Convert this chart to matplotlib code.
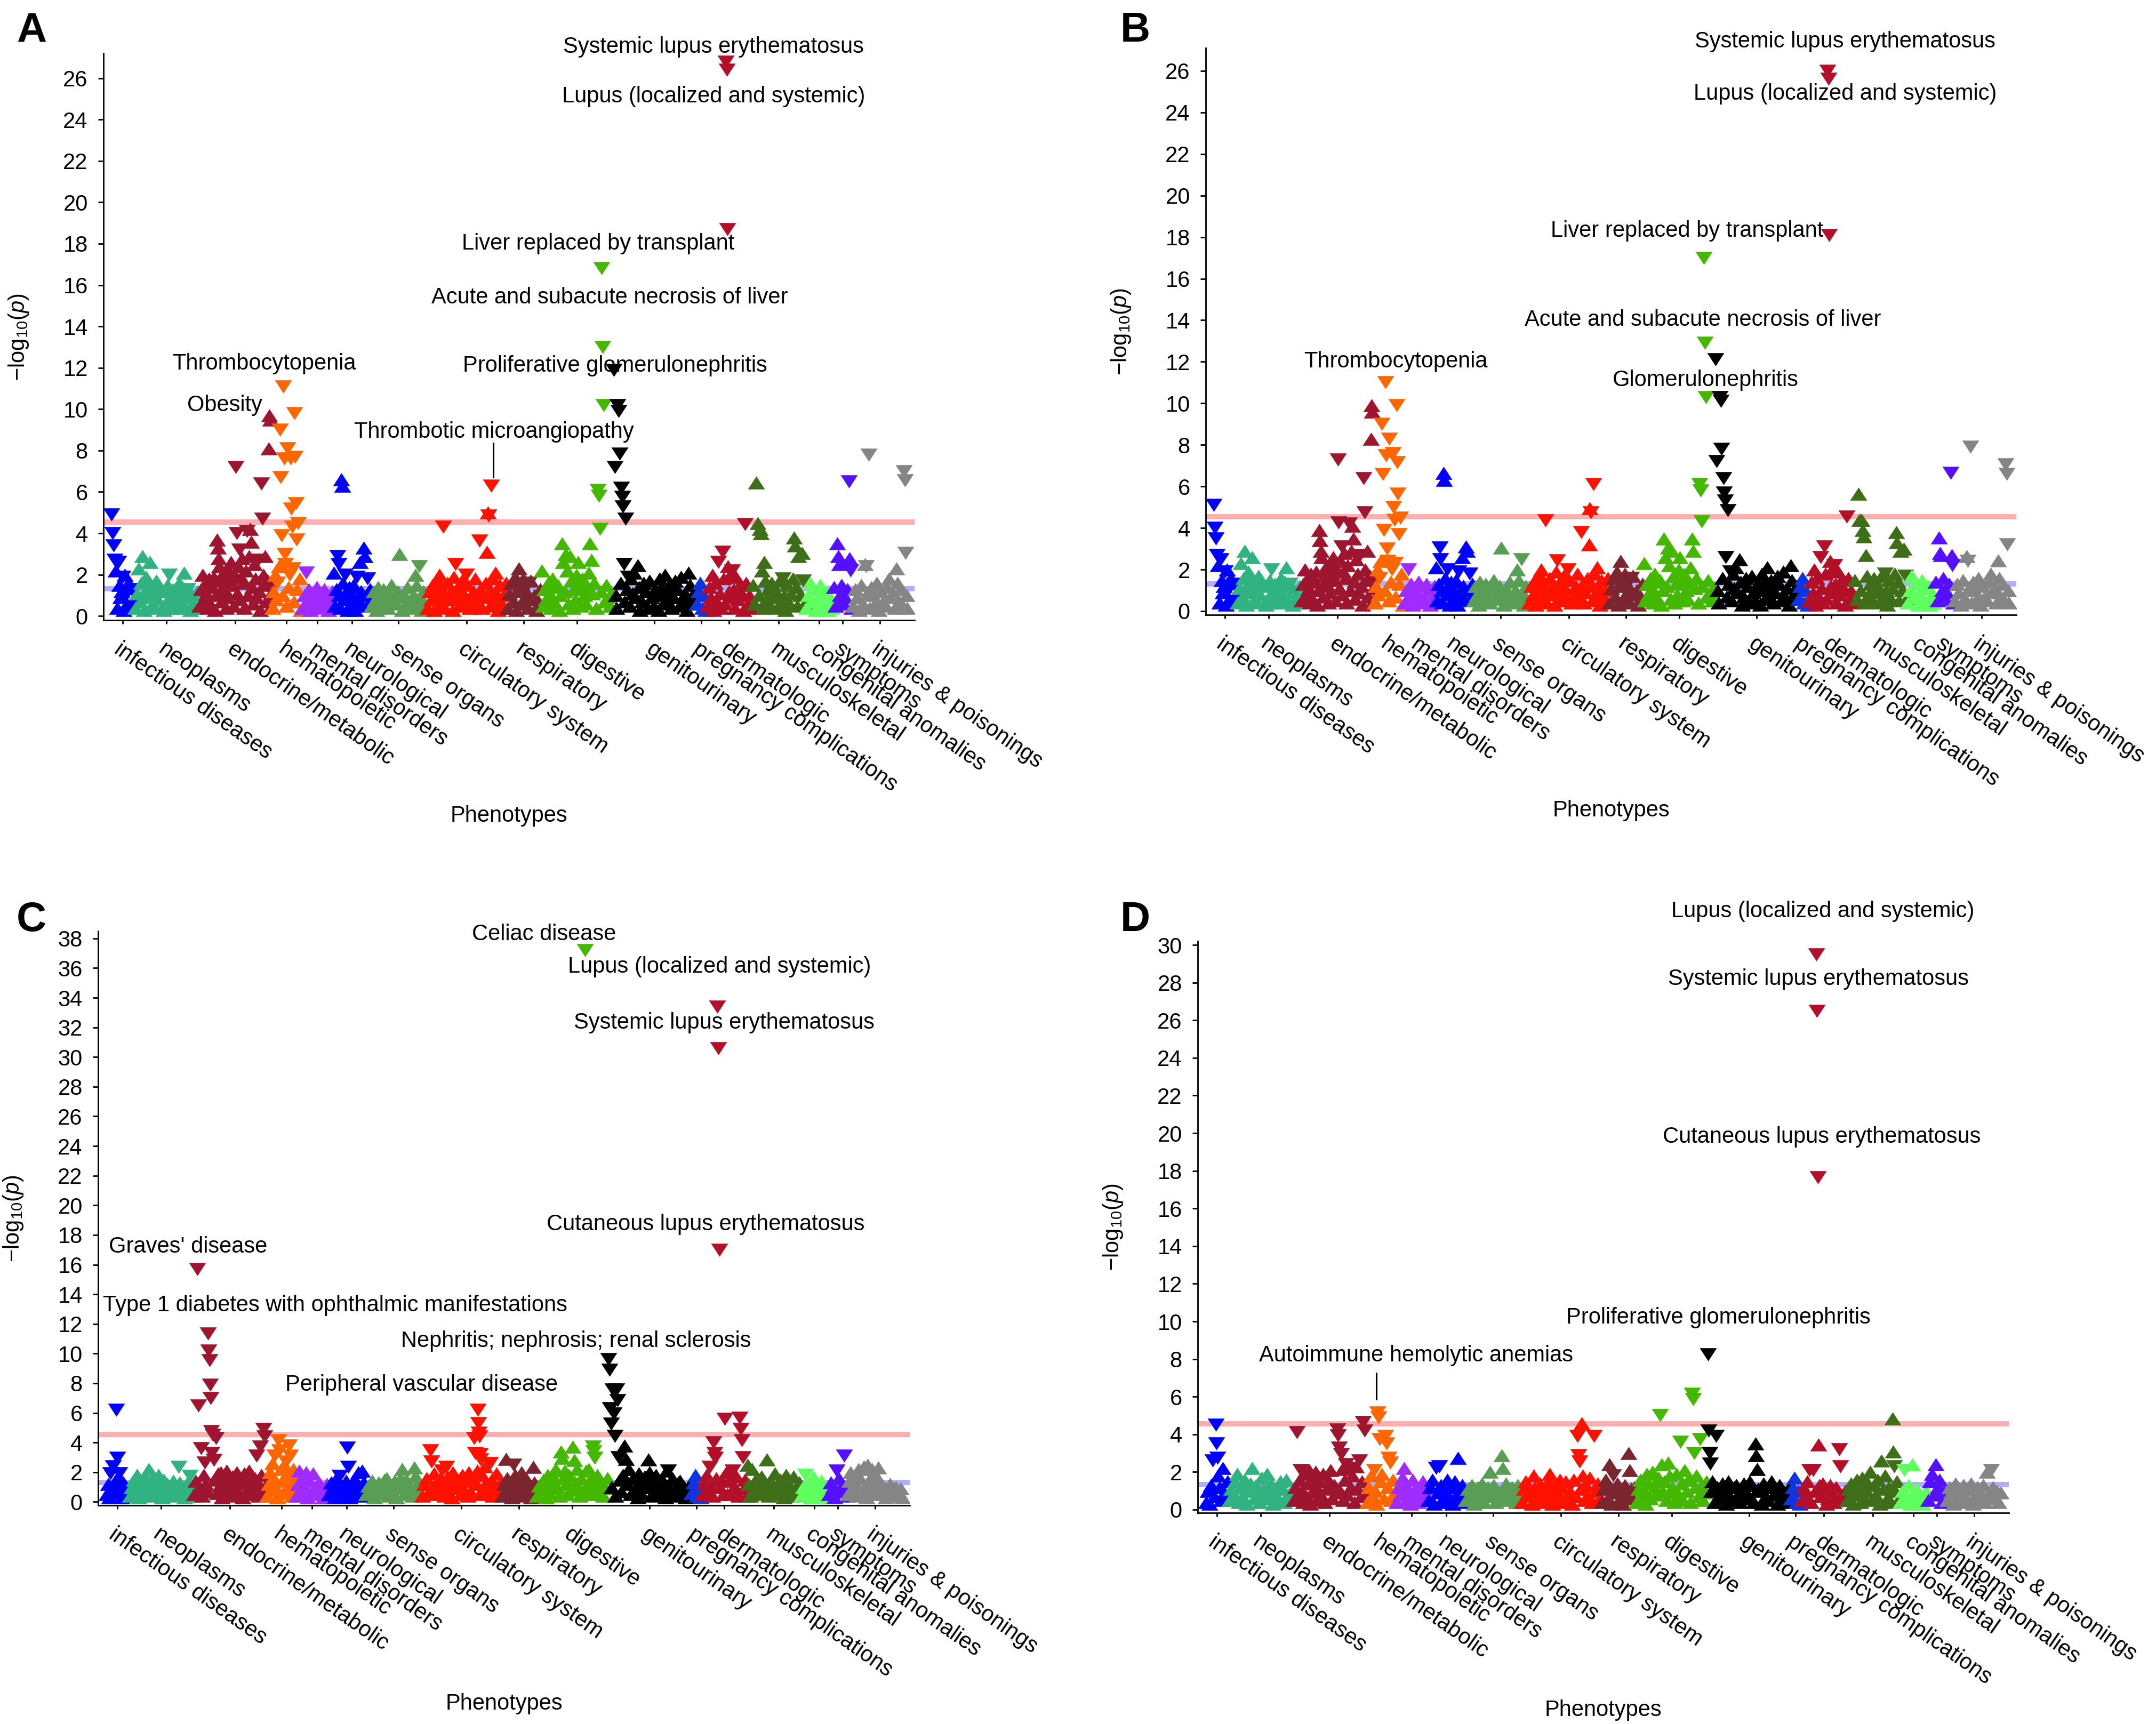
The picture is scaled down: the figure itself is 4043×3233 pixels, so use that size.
import numpy as np
import matplotlib.pyplot as plt
from matplotlib.transforms import ScaledTranslation

plt.rcParams['font.family'] = ['Liberation Sans', 'DejaVu Sans']
plt.rcParams['mathtext.fontset'] = 'custom'
plt.rcParams['mathtext.rm'] = 'Liberation Sans'
plt.rcParams['mathtext.it'] = 'Liberation Sans:italic'

CATEGORIES = ["infectious diseases", "neoplasms", "endocrine/metabolic", "hematopoietic",
              "mental disorders", "neurological", "sense organs", "circulatory system",
              "respiratory", "digestive", "genitourinary", "pregnancy complications",
              "dermatologic", "musculoskeletal", "congenital anomalies", "symptoms",
              "injuries & poisonings"]
CAT_COLORS = ['#0000FF', '#30B380', '#9E1530', '#FF6600', '#A02BFF', '#0000FF', '#5A9E55',
              '#FF1100', '#7A2530', '#44B800', '#000000', '#1035E0', '#B30F28', '#3E6E18',
              '#5FFF5F', '#5511FF', '#858585']
# width of each category on the phenotype axis
CAT_SIZES = [8.8, 24, 27.6, 11, 12, 14, 21, 30, 13, 27, 31, 4, 17, 20, 10.4, 7.2, 20.8]

# -log10(p) per category, grouped by neighbouring phenotypes.
# sign = direction of effect (+ up triangle, - down triangle)
PANEL_A = [
    [[-4.9, -4.0, -3.4], [-2.7, 2.2, 0.4], [-2.6, 1.5, 0.9], [1.2, -1.9, 0.3], [2.0, -1.0, 0.6], [1.6, 0.5], [-1.3, 0.8]],
    [[0.4, 1.1], [2.3, 0.7, 1.6], [2.9, 0.3, 1.2], [1.9, 0.9, 1.5], [2.6, 0.5, 1.3], [1.0, 0.4, 1.7], [0.8, 1.4], [1.2, 0.3], [0.6, 1.5], [-2.0, 0.9, 0.4], [1.3, 0.7], [1.1, 0.4, 1.6], [0.8, 1.4], [2.1, 0.5, 1.2], [-1.3, 0.9, 0.3], [1.0, 0.6], [0.4, 1.2]],
    [[0.5, 1.3], [2.0, 0.8, 1.6], [1.1, 0.4, 1.8], [0.6, 1.4], [1.9, 0.3, 1.0], [3.7, 3.3, 2.8, 2.4, 1.2], [0.7, 1.7, 2.1], [1.3, 0.4, 2.3], [0.9, 1.8, 2.6], [1.5, 0.5, 2.0], [-7.2, -4.0, 1.1, 2.4], [-3.2, 0.8, 1.9, 2.8], [1.6, 0.4, 2.2], [-4.1, 1.0, 2.9], [4.2, 3.6, 1.4, 0.6], [2.5, 1.8, 0.9], [-2.7, 1.2, 0.3], [-6.4, -4.7, 2.0, 1.5], [2.9, 0.7, 1.7], [8.1, 9.7, 9.5, 1.1, 0.5]],
    [[0.4, 1.2, 2.0], [0.8, -1.6, 2.4], [-9.0, -6.7, -3.9, 1.0], [-11.1, -7.6, -3.0, -2.5, 0.5], [-8.1, 1.4, -2.0], [-7.6, -5.2, -4.3, -2.3, 0.7], [-9.8, -7.7, -5.45, -3.7, 1.3], [-4.5, 1.8, 0.3]],
    [[0.4, 1.0], [-2.1, 0.7, 1.3], [0.3, 1.1], [0.9, 0.5, 1.4], [1.2, 0.4], [0.7, 1.3], [1.0, 0.3], [0.6, 1.2]],
    [[2.1, 0.5, 1.3], [-2.9, -2.5, 1.0, 0.4], [6.6, 6.3, 1.6, 0.8], [-2.0, 1.1, 0.3], [1.4, 0.6], [0.9, 1.5, 0.3], [-1.9, 0.7], [2.6, 1.2, 0.5], [3.3, 2.9, 1.0], [-1.8, 0.6, 1.3]],
    [[0.5, 1.2], [0.8, 0.3, 1.4], [1.0, 0.5], [1.3, 0.7], [0.4, 1.1], [1.5, 0.8], [0.6, 1.2], [3.0, 0.9, 0.3], [1.1, 0.5], [1.4, 0.7], [0.4, 1.0], [2.0, 1.5, 0.6], [-2.4, 0.9, 0.3], [1.2, 0.5]],
    [[0.4, 1.2], [0.8, 1.5, 0.3], [1.1, 0.5, 1.7], [2.0, 0.7, 1.3], [-4.3, 0.4, 1.0], [1.6, 0.8], [1.2, 0.3, 1.9], [-2.5, 0.9, 1.4], [0.5, 1.7], [1.1, 0.6, -2.0], [1.5, 0.4], [0.8, 1.2], [1.8, 0.5, 1.0], [-3.65, 1.3, 0.4], [0.9, 1.6], [3.1, 5.0, -4.85, 1.2, 0.5], [-6.3, 1.8, 0.7], [2.1, 1.1, 0.3], [1.5, 0.6], [1.0, 0.4, 1.6]],
    [[0.4, 1.1], [1.6, 0.7], [1.9, 0.3, 1.2], [2.3, 1.5, 0.6], [1.8, 0.9], [1.2, 0.4, -1.6], [1.7, 0.8], [1.0, 0.3], [0.6, 1.3]],
    [[2.2, 0.5, 1.3], [0.8, 1.6], [1.1, 0.4, 1.8], [0.7, 1.4], [1.5, 0.3, 1.0], [3.5, 2.6, 1.2], [3.0, 2.2, 0.6], [2.9, 1.7, 0.4], [1.3, 0.8, 2.0], [2.6, 1.5, 0.5], [1.8, 1.0], [0.6, 1.4, 2.1], [3.5, 2.7, 1.1], [1.6, 0.4], [-6.1, -5.8, -4.2, 1.2], [-16.8, -13.0, -10.2, 0.7], [1.5, 0.9], [0.5, 1.1]],
    [[-11.9, -7.2, 1.0, 0.4], [-10.2, -9.9, -7.85, 1.6], [-6.2, -5.75, -5.3, -2.5, 0.7], [-4.7, 1.3, -1.9], [0.5, 1.8, 1.1], [2.1, 0.9], [2.45, 1.4, 0.3], [0.7, 1.6], [1.2, 0.4], [1.7, 0.9], [0.5, 1.3], [1.0, 0.3, 1.8], [1.4, 0.6], [2.0, 0.8, 1.2], [1.5, 0.4], [0.9, 1.7], [1.3, 0.5], [1.9, 0.7], [1.1, 0.3], [2.1, 1.5, 0.6], [0.9, 1.2]],
    [[0.6, 1.2], [1.6, 0.4], [1.0, 0.3]],
    [[0.5, 1.4], [0.9, 2.0, 0.3], [1.6, 0.7], [-2.6, 1.1, 0.4], [-3.1, 1.8, 0.6], [-26.8, -26.4, -18.7, 2.4, 1.2], [2.0, 0.9, -2.2], [1.3, 0.4, 1.9], [0.8, 1.5], [1.1, 0.3], [-4.45, 1.6, 0.6], [1.0, 0.4]],
    [[1.5, 0.6], [6.45, 4.5, 1.0], [4.2, 4.0, 2.2, 0.4], [2.6, 1.7, 0.8], [1.3, 0.5], [1.6, 0.9], [1.2, 0.4], [1.7, 0.7], [-1.8, 1.0, 0.3], [1.5, 0.6], [1.1, 1.8], [3.8, 3.4, 1.4, 0.5], [2.9, 1.0], [3.05, -1.7, 0.6]],
    [[0.4, 1.0], [1.6, 0.7], [1.3, 0.3], [0.9, 1.5], [0.5, 1.1], [1.2, 0.3], [0.8, 0.4]],
    [[1.4, 0.5], [3.5, 2.9, 2.5, 1.0], [1.5, 0.6], [0.9, 1.3], [-6.5, 2.8, -2.2, 0.4]],
    [[0.5, 1.3], [0.9, 0.3], [1.5, 0.6], [2.5, -2.4, 1.1], [-7.8, 0.4, 1.4], [1.0, 0.6], [1.6, 0.3], [1.2, 0.7], [0.5, 1.4], [1.8, 0.9], [1.1, 0.4], [2.3, 1.6, 0.7], [1.3, 0.5], [-7.0, -6.55, -3.05, 1.0, 0.4]],
]

PANEL_B = [
    [[-5.1, -4.0, -3.5], [-2.7, 2.2, 0.4], [-2.5, 1.5, 0.9], [1.2, -1.9, 0.3], [2.0, -1.0, 0.6], [1.6, 0.5], [-1.3, 0.8]],
    [[0.4, 1.1], [2.3, 0.7, 1.6], [2.9, 0.3, 1.2], [1.9, 0.9, 1.5], [2.6, 0.5, 1.3], [1.0, 0.4, 1.7], [0.8, 1.4], [1.2, 0.3], [0.6, 1.5], [-2.0, 0.9, 0.4], [1.3, 0.7], [1.1, 0.4, 1.6], [0.8, 1.4], [2.1, 0.5, 1.2], [-1.3, 0.9, 0.3], [1.0, 0.6], [0.4, 1.2]],
    [[0.5, 1.3], [2.0, 0.8, 1.6], [1.1, 0.4, 1.8], [0.6, 1.4], [1.9, 0.3, 1.0], [3.9, 3.4, 2.9, 2.6, 1.2], [0.7, 1.7, 2.1], [1.3, 0.4, 2.3], [0.9, 1.8, 2.6], [1.5, 0.5, 2.0], [-7.3, -4.25, 1.1, 2.4], [-3.1, 0.8, 1.9, 2.8], [1.6, 0.4, 2.2], [-4.2, 1.0, 2.9], [4.1, 3.5, 1.4, 0.6], [2.5, 1.8, 0.9], [-2.7, 1.2, 0.3], [-6.4, -4.75, 2.0, 1.5], [2.9, 0.7, 1.7], [8.3, 9.9, 9.6, 1.1, 0.5]],
    [[0.4, 1.2, 2.0], [0.8, -1.6, 2.4], [-9.0, -6.6, -3.9, 1.0], [-11.0, -7.5, -3.0, -2.4, 0.5], [-8.3, 1.4, -2.0], [-7.6, -5.0, -4.4, -2.3, 0.7], [-9.9, -7.15, -5.65, -3.7, 1.3], [-4.5, 1.8, 0.3]],
    [[0.4, 1.0], [-2.0, 0.7, 1.3], [0.3, 1.1], [0.9, 0.5, 1.4], [1.2, 0.4], [0.7, 1.3], [1.0, 0.3], [0.6, 1.2]],
    [[2.1, 0.5, 1.3], [-3.05, -2.5, 1.0, 0.4], [6.65, 6.3, 1.6, 0.8], [-2.0, 1.1, 0.3], [1.4, 0.6], [0.9, 1.5, 0.3], [-1.9, 0.7], [2.6, 1.2, 0.5], [3.1, 2.9, 1.0], [-1.8, 0.6, 1.3]],
    [[0.5, 1.2], [0.8, 0.3, 1.4], [1.0, 0.5], [1.3, 0.7], [0.4, 1.1], [1.5, 0.8], [0.6, 1.2], [3.05, 0.9, 0.3], [1.1, 0.5], [1.4, 0.7], [0.4, 1.0], [2.0, 1.5, 0.6], [-2.5, 0.9, 0.3], [1.2, 0.5]],
    [[0.4, 1.2], [0.8, 1.5, 0.3], [1.1, 0.5, 1.7], [2.0, 0.7, 1.3], [-4.35, 0.4, 1.0], [1.6, 0.8], [1.2, 0.3, 1.9], [-2.45, 0.9, 1.4], [0.5, 1.7], [1.1, 0.6, -2.0], [1.5, 0.4], [0.8, 1.2], [1.8, 0.5, 1.0], [-3.8, 1.3, 0.4], [0.9, 1.6], [3.2, 4.95, -4.75, 1.2, 0.5], [-6.1, 1.8, 0.7], [2.1, 1.1, 0.3], [1.5, 0.6], [1.0, 0.4, 1.6]],
    [[0.4, 1.1], [1.6, 0.7], [1.9, 0.3, 1.2], [2.4, 1.5, 0.6], [1.8, 0.9], [1.2, 0.4, -1.6], [1.7, 0.8], [1.0, 0.3], [0.6, 1.3]],
    [[2.3, 0.5, 1.3], [0.8, 1.6], [1.1, 0.4, 1.8], [0.7, 1.4], [1.5, 0.3, 1.0], [3.5, 2.6, 1.2], [3.05, 2.2, 0.6], [2.9, 1.7, 0.4], [1.3, 0.8, 2.0], [2.6, 1.5, 0.5], [1.8, 1.0], [0.6, 1.4, 2.1], [3.5, 2.9, 1.1], [1.6, 0.4], [-6.1, -5.8, -4.3, 1.2], [-17.0, -12.9, -10.3, 0.7], [1.5, 0.9], [0.5, 1.1]],
    [[-12.1, -7.2, 1.0, 0.4], [-10.3, -10.1, -7.8, 1.6], [-6.4, -5.7, -5.3, -2.6, 0.7], [-4.85, 1.3, -1.9], [0.5, 1.8, 1.1], [2.1, 0.9], [2.5, 1.4, 0.3], [0.7, 1.6], [1.2, 0.4], [1.7, 0.9], [0.5, 1.3], [1.0, 0.3, 1.8], [1.4, 0.6], [2.1, 0.8, 1.2], [1.5, 0.4], [0.9, 1.7], [1.3, 0.5], [1.9, 0.7], [1.1, 0.3], [2.2, 1.5, 0.6], [0.9, 1.2]],
    [[0.6, 1.2], [1.6, 0.4], [1.0, 0.3]],
    [[0.5, 1.4], [0.9, 2.0, 0.3], [1.6, 0.7], [-2.6, 1.1, 0.4], [-3.1, 1.8, 0.6], [-26.0, -25.6, -18.1, 2.4, 1.2], [2.0, 0.9, -2.2], [1.3, 0.4, 1.9], [0.8, 1.5], [1.1, 0.3], [-4.55, 1.6, 0.6], [1.0, 0.4]],
    [[1.5, 0.6], [5.65, 4.4, 1.0], [4.4, 3.9, 3.6, 0.4], [2.7, 1.7, 0.8], [1.3, 0.5], [1.6, 0.9], [1.2, 0.4], [1.7, 0.7], [-1.8, 1.0, 0.3], [1.5, 0.6], [1.1, 1.8], [3.8, 3.3, 1.4, 0.5], [2.9, 1.0], [3.0, -1.7, 0.6]],
    [[0.4, 1.0], [1.7, 0.7], [1.3, 0.3], [0.9, 1.5], [0.5, 1.1], [1.2, 0.3], [0.8, 0.4]],
    [[1.4, 0.5], [3.55, 2.8, 2.7, 1.0], [1.6, 0.6], [0.9, 1.3], [-6.65, 2.7, -2.2, 0.4]],
    [[0.5, 1.3], [0.9, 0.3], [1.5, 0.6], [2.65, -2.4, 1.1], [-7.9, 0.4, 1.4], [1.0, 0.6], [1.6, 0.3], [1.2, 0.7], [0.5, 1.4], [1.8, 0.9], [1.1, 0.4], [2.45, 1.6, 0.7], [1.3, 0.5], [-7.05, -6.6, -3.2, 1.0, 0.4]],
]

PANEL_C = [
    [[0.5, 1.2], [0.3, -1.9, 1.0], [-2.4, 0.6, 1.4], [-6.2, -2.95, 1.7], [-1.9, 0.8, 0.3], [1.3, 0.5], [1.0, 0.4]],
    [[0.4, 1.0], [1.5, 0.7], [1.8, 0.3, 1.1], [1.4, 0.6], [1.7, 0.9], [2.2, 1.2, 0.4], [1.6, 0.8], [1.3, 0.5, 1.8], [1.0, 0.3], [1.5, 0.7], [1.2, 0.4], [0.9, 1.4], [1.1, 0.5], [-2.35, 1.3, 0.6], [1.0, 0.3], [1.2, 0.6], [-1.75, 0.9, 0.4]],
    [[0.5, 1.4], [-15.7, -6.5, 1.0], [-3.6, 0.4, 1.8], [-2.65, 1.2, 0.7], [-11.35, -10.2, -9.55, -7.9, -7.0, -4.75], [-3.3, -4.5, -2.8, 1.5], [-4.3, 0.6, 1.9], [1.1, 2.0, 0.3], [0.8, 1.6], [2.1, 1.3, 0.5], [0.9, 1.7], [1.4, 0.4, 2.0], [0.7, 1.5], [1.2, 0.3, 1.9], [0.6, 1.3], [2.1, 1.0], [0.5, 1.6], [-3.1, 1.2, 0.4], [-3.7, 1.8, 0.8], [-4.9, -4.4, 1.1, 0.5]],
    [[0.4, 1.2, 2.0], [0.8, 2.6, 1.6], [-3.1, 1.0, 0.3], [-4.15, -3.45, 2.2], [1.4, 0.6, 2.5], [-2.7, 1.8, 0.9], [-3.8, -3.1, 1.2, 0.4], [2.2, 0.7, 1.5]],
    [[0.4, 1.2, 2.1], [0.7, 1.6], [1.0, 2.0, 0.3], [1.4, 0.6], [1.9, 1.0], [0.5, 1.3], [1.1, 0.3], [0.7, 1.2]],
    [[0.5, 1.3], [1.0, 0.3], [1.6, 0.7], [-1.75, 1.1, 0.4], [0.8, 1.4], [-3.65, -2.35, 0.9, 0.3], [1.2, 0.5], [1.5, 0.7], [2.0, 1.0, 0.4], [2.1, 1.3, 0.5]],
    [[0.5, 1.1], [0.8, 1.4], [0.3, 1.0], [1.3, 0.6], [0.9, 1.5], [1.6, 0.4], [1.1, 0.7], [1.4, 0.3], [0.9, 1.6], [2.2, 1.2, 0.5], [1.5, 0.8], [1.0, 0.4], [2.3, 1.75, 0.9], [1.3, 0.5]],
    [[0.4, 1.2], [1.6, 0.7], [-3.45, -2.7, 1.0], [1.9, 0.5, 1.3], [0.8, 1.6], [-2.1, 1.1, 0.4], [-2.35, 1.7, 0.6], [1.3, 0.3, 2.0], [0.9, 1.5], [1.2, 0.5], [1.8, 0.8], [1.4, 0.4, 2.0], [0.7, 1.6], [-4.3, -3.3, 1.2, 2.1], [-6.2, -5.3, -4.65, -4.4, -3.2, -2.85, 0.5], [1.8, 1.0, 2.4], [1.3, 0.6], [-2.6, 1.5, 0.4], [1.0, 1.9], [0.6, 1.3]],
    [[0.4, 1.2], [2.9, 1.6, 0.7], [1.1, 0.3], [-2.5, 1.8, 0.6], [1.4, 0.9], [2.0, 1.2, 0.4], [1.6, 0.7], [1.0, 0.3], [2.35, 1.3, 0.5]],
    [[0.4, 1.1], [0.8, 1.5], [1.2, 0.3, 1.8], [0.6, 1.4], [1.7, 0.9, 2.2], [1.0, 0.4], [3.4, 2.95, 1.6], [2.1, 1.2, 0.5], [1.8, 0.8], [3.7, 2.8, 1.3], [2.2, 1.0, 0.4], [1.6, 0.7], [-37.2, 2.1, 1.1], [2.2, 1.5, 0.5], [-3.7, -3.4, -2.95, 1.0], [1.8, 0.6], [1.3, 0.4], [0.9, 1.6]],
    [[-9.6, -8.9, -6.3, -5.25, 1.0], [-7.55, -5.95, -4.45, 0.4], [-7.55, -6.85, -3.0, 1.5], [0.7, 1.8], [3.8, 2.9, 1.2], [2.2, 0.5], [1.6, 0.9], [1.1, 0.3, 1.9], [0.6, 1.4], [1.7, 1.0], [2.85, 2.0, 0.4], [1.3, 0.7], [1.8, 0.5, 1.0], [0.8, 1.5], [1.2, 0.3, 2.1], [-2.1, 1.0, 0.6], [1.6, 0.4], [0.9, 1.3], [1.4, 0.5], [1.0, 0.3], [0.7, 1.2]],
    [[0.6, 1.3], [1.8, 0.4], [1.0, 0.3]],
    [[0.5, 1.3], [1.8, 0.8], [-2.35, 1.1, 0.4], [-4.0, -3.3, -2.95, 1.6], [-33.4, -30.6, -17.0, 1.0], [1.5, 0.5], [-5.6, 2.0, 0.5], [1.4, 0.7], [-2.1, 1.0], [1.7, 0.4], [-5.65, -4.9, -4.15, -3.0], [0.9, 1.5, 0.4]],
    [[2.5, 1.2, 0.4], [2.2, 0.8], [1.5, 0.5], [1.0, 1.7], [0.6, 1.3], [2.85, 1.1, 0.4], [1.4, 0.7], [1.9, 1.0], [0.5, 1.5], [1.2, 0.3], [1.8, 0.8], [1.1, 0.4], [1.7, 0.9], [0.6, 1.3]],
    [[0.4, 1.0], [-1.8, 0.7], [1.3, 0.3], [1.7, 0.9], [0.5, 1.1], [1.4, 0.4], [0.8, 0.3]],
    [[0.5, 1.3], [1.0, 0.3], [-2.1, 1.6], [0.7, 1.2], [-3.1, 0.9, 0.4]],
    [[0.5, 1.4, 2.0], [0.9, 1.7], [1.2, 0.4, 2.2], [1.6, 0.7], [2.4, 1.0, 0.3], [2.5, 1.5, 0.6], [2.2, 1.1], [1.8, 0.5, 2.3], [1.3, 0.8], [1.0, 0.3], [0.7, 1.2], [0.5, 0.9], [1.0, 0.4], [0.6, 0.9, 0.3]],
]

PANEL_D = [
    [[0.4, 1.0], [0.3, 1.3], [-2.6, 0.7], [-4.5, -3.5, -2.75, 1.8], [1.2, 0.5], [2.2, 0.9], [0.6, 1.5]],
    [[0.5, 1.1], [0.8, 1.5], [1.9, 0.4], [1.2, 0.7], [1.6, 0.3], [1.0, 1.4], [2.2, 0.6], [1.3, 0.9], [0.4, 1.7], [1.1, 0.6], [1.9, 0.8], [1.4, 0.3], [0.9, 1.2], [0.5, 1.5], [1.1, 0.4], [1.6, 0.8], [0.6, 1.0]],
    [[0.5, 1.2], [-4.1, 0.8, 1.6], [-2.1, 1.0, 0.4], [1.9, 0.7], [1.4, 2.1, 0.3], [0.9, 1.7], [2.0, 1.2, 0.5], [1.5, 0.8], [1.9, 0.4], [1.1, 1.6], [2.1, 0.6], [1.3, 0.9], [-4.25, -3.95, -3.3, 1.0], [-2.95, 2.15, 0.5], [1.6, -2.4, 0.8], [-2.2, 1.2], [1.8, 0.4], [2.3, 1.1], [-2.6, 0.7, 1.5], [-4.65, -4.2, 1.0]],
    [[0.4, 1.2], [1.8, 0.7], [-2.1, 1.0, 0.3], [-5.15, -4.9, -3.75, 1.5], [1.9, 0.6], [-3.9, -3.5, 1.2], [-2.75, -2.5, 0.5], [1.6, 0.9]],
    [[0.4, 1.2], [0.8, 1.7], [2.2, 1.3, 0.5], [1.0, 0.3], [1.6, 0.7], [1.2, 0.4], [0.8, 1.5], [1.1, 0.5]],
    [[0.5, 1.2], [1.6, 0.3], [-2.2, 0.9], [-2.3, 1.3, 0.5], [1.0, 0.4], [1.6, 0.7], [1.2, 0.3], [1.5, 0.8], [2.75, 1.0, 0.4], [1.3, 0.6]],
    [[0.5, 1.1], [0.8, 1.3], [0.3, 1.0], [1.2, 0.6], [1.4, 0.4], [0.9, 1.2], [2.0, 0.7], [1.3, 0.4], [1.0, 0.6], [2.9, 2.2, 1.1], [1.4, 0.5], [0.8, 1.2], [1.0, 0.4], [1.3, 0.6]],
    [[0.4, 1.1], [1.5, 0.7], [1.0, 0.3], [1.8, 1.2, 0.5], [0.8, 1.4], [1.1, 0.4], [0.7, 1.5], [1.9, 1.0, 0.3], [1.3, 0.6], [0.9, 1.6], [1.2, 0.4], [1.5, 0.8], [1.0, 0.3], [1.6, 0.7], [-3.9, -2.9, -2.55, 1.1], [4.6, 1.8, 0.5], [1.3, 0.8], [1.7, 0.4], [-3.9, 1.0], [1.4, 0.6]],
    [[0.4, 1.1], [1.6, 0.6], [2.4, 1.2, 0.3], [-1.8, 0.9], [1.4, 0.5], [1.0, 0.3], [1.3, 0.7], [3.0, 2.1, 1.1], [0.6, 1.2]],
    [[0.4, 1.1], [1.6, 0.7], [1.0, 0.3, 1.9], [1.4, 0.6], [2.0, 1.2], [0.8, 1.7], [-5.0, 2.4, 1.0], [1.5, 0.5], [2.5, 1.8, 0.9], [1.2, 0.4], [1.9, 0.8], [-3.6, 1.4, 0.5], [2.1, 1.0], [1.6, 0.4], [-6.15, -5.85, -3.0, 1.2], [1.8, 0.7], [-3.75, 1.3, 0.5], [0.9, 1.5]],
    [[-8.25, -4.2, -3.0, -2.45, 1.0], [1.5, 0.4], [-3.9, 1.2, 0.6], [0.9, 1.4], [1.1, 0.3], [1.5, 0.7], [0.5, 1.2], [1.3, 0.8], [0.4, 1.0], [1.4, 0.6], [0.8, 1.5], [1.3, 0.4], [3.5, 2.9, 2.15, 1.1], [1.0, 0.3], [1.4, 0.7], [0.5, 1.2], [1.5, 0.8], [0.9, 0.3], [1.3, 0.6], [1.0, 0.4], [0.7, 1.2]],
    [[0.6, 1.2], [1.7, 0.4], [1.0, 0.3]],
    [[0.5, 1.2], [0.8, 1.5], [-2.1, 0.4], [-2.1, 1.0], [-29.5, -26.5, -17.65, 3.45, 1.3], [0.7, 1.4], [1.1, 0.3], [0.6, 1.3], [0.9, 0.4], [1.2, 0.5], [-3.2, -2.3, 0.8], [0.7, 1.0]],
    [[0.5, 1.1], [1.4, 0.3], [0.8, 1.6], [1.1, 0.4], [1.7, 0.6], [1.0, 1.4], [2.0, 0.5], [1.3, 0.8], [1.6, 0.3], [2.6, 1.1], [1.8, 0.6], [1.2, 0.4], [4.85, 3.1, -2.3, 1.0], [1.5, 0.5]],
    [[0.4, 1.0], [-2.1, 0.7], [1.3, 0.3], [2.4, 0.9], [1.1, 0.5], [0.8, 0.3], [0.6, 1.0]],
    [[0.5, 1.5], [1.9, 0.8], [2.4, 1.2], [1.6, 0.4], [1.0, 0.6]],
    [[0.5, 1.2], [0.9, 0.3], [1.4, 0.6], [1.0, 0.4], [1.3, 0.7], [0.5, 1.1], [1.4, 0.3], [0.8, 1.2], [1.0, 0.5], [1.3, 0.4], [2.0, 0.8], [-2.1, 1.2], [0.6, 1.0], [0.4, 0.9]],
]

LABELS_A = [("Systemic lupus erythematosus", 226, 27.5), ("Lupus (localized and systemic)", 226, 25.1),
            ("Liver replaced by transplant", 182.8, 18.0), ("Acute and subacute necrosis of liver", 187, 15.4),
            ("Thrombocytopenia", 57.4, 12.2), ("Obesity", 42.6, 10.2),
            ("Proliferative glomerulonephritis", 189, 12.1), ("Thrombotic microangiopathy", 143.6, 8.9)]
LABELS_B = [("Systemic lupus erythematosus", 237.2, 27.4), ("Lupus (localized and systemic)", 237.2, 24.9),
            ("Liver replaced by transplant", 177.8, 18.3), ("Acute and subacute necrosis of liver", 183.8, 14.0),
            ("Thrombocytopenia", 68.6, 12.0), ("Glomerulonephritis", 184.8, 11.1)]
LABELS_C = [("Celiac disease", 164.4, 38.3), ("Lupus (localized and systemic)", 230, 36.1),
            ("Systemic lupus erythematosus", 231.8, 32.3), ("Cutaneous lupus erythematosus", 224.8, 18.7),
            ("Graves' disease", 31, 17.2), ("Type 1 diabetes with ophthalmic manifestations", 86, 13.25),
            ("Nephritis; nephrosis; renal sclerosis", 176.4, 10.85), ("Peripheral vascular disease", 118.4, 7.9)]
LABELS_D = [("Lupus (localized and systemic)", 231.6, 31.8), ("Systemic lupus erythematosus", 230, 28.2),
            ("Cutaneous lupus erythematosus", 231.3, 19.8), ("Proliferative glomerulonephritis", 192.4, 10.2),
            ("Autoimmune hemolytic anemias", 79, 8.2)]

TRI_UP = [(-1, -0.77), (1, -0.77), (0, 0.77)]
TRI_DOWN = [(-1, 0.77), (1, 0.77), (0, -0.77)]

fig = plt.figure(figsize=(40.43, 32.33), dpi=100)


def draw_panel(rect, panel, ylim, ymax_tick, labels, leader=None):
    ax = fig.add_axes(rect)
    starts = np.concatenate([[0], np.cumsum(CAT_SIZES)[:-1]])
    for c, slots in enumerate(panel):
        w = CAT_SIZES[c] / len(slots)
        xs, ys = [], []
        for k, grp in enumerate(slots):
            for j, v in enumerate(grp):
                xs.append(starts[c] + k * w + (j + 0.5) / len(grp) * w)
                ys.append(v)
        xs = np.array(xs)
        ys = np.array(ys)
        up = ys > 0
        ax.plot(xs[up], ys[up], ls='none', marker=TRI_UP, ms=23, mew=0,
                color=CAT_COLORS[c], zorder=3)
        ax.plot(xs[~up], -ys[~up], ls='none', marker=TRI_DOWN, ms=23, mew=0,
                color=CAT_COLORS[c], zorder=3)

    ax.axhline(4.55, color='#FFAFAF', lw=7.2, zorder=1)
    ax.axhline(1.32, color='#AFAFFF', lw=7.2, zorder=1)

    for txt, x, y in labels:
        ax.text(x, y, txt, ha='center', va='center', fontsize=30, clip_on=False, zorder=5)
    if leader is not None:
        ax.plot([leader[0], leader[0]], [leader[1], leader[2]], color='black', lw=2.2, zorder=4)

    ax.set_xlim(-2.8, 301.4)
    ax.set_ylim(*ylim)
    ax.set_yticks(np.arange(0, ymax_tick + 1, 2))
    centers = starts + np.array(CAT_SIZES) / 2
    ax.set_xticks(centers)
    ax.set_xticklabels(CATEGORIES, rotation=-35, ha='left', va='top', rotation_mode='anchor')
    for lab in ax.get_xticklabels():
        lab.set_transform(lab.get_transform() + ScaledTranslation(-0.12, 0, fig.dpi_scale_trans))

    for s in ['top', 'right']:
        ax.spines[s].set_visible(False)
    for s in ['left', 'bottom']:
        ax.spines[s].set_linewidth(2)
    ax.tick_params(axis='y', length=7, width=2, labelsize=30, pad=14)
    ax.tick_params(axis='x', length=5, width=2, labelsize=30, pad=20)

    ax.set_ylabel('\u2212log$_{10}$($\\mathit{p}$)', fontsize=30)
    ax.yaxis.set_label_coords(-0.09, 0.5)
    ax.set_xlabel('Phenotypes', fontsize=30, va='center')
    ax.xaxis.set_label_coords(0.5, -0.345)
    return ax


draw_panel([0.04798, 0.64027, 0.37621, 0.32880], PANEL_A, (-0.2, 27.2), 26, LABELS_A, (143.4, 8.35, 6.7))
draw_panel([0.55924, 0.64337, 0.37596, 0.32880], PANEL_B, (-0.18, 27.1), 26, LABELS_B)
draw_panel([0.04551, 0.12682, 0.37645, 0.33313], PANEL_C, (-0.24, 38.5), 38, LABELS_C)
draw_panel([0.55553, 0.12249, 0.37621, 0.33158], PANEL_D, (-0.17, 30.2), 30, LABELS_D, (64.2, 7.25, 5.85))

for letter, x, y in [("A", 31, 21), ("B", 2101, 21), ("C", 31, 1689), ("D", 2101, 1689)]:
    fig.text(x / 4043, 1 - y / 3233, letter, fontsize=56, fontweight='bold', ha='left', va='top')

fig.savefig('out.png', dpi=100)
